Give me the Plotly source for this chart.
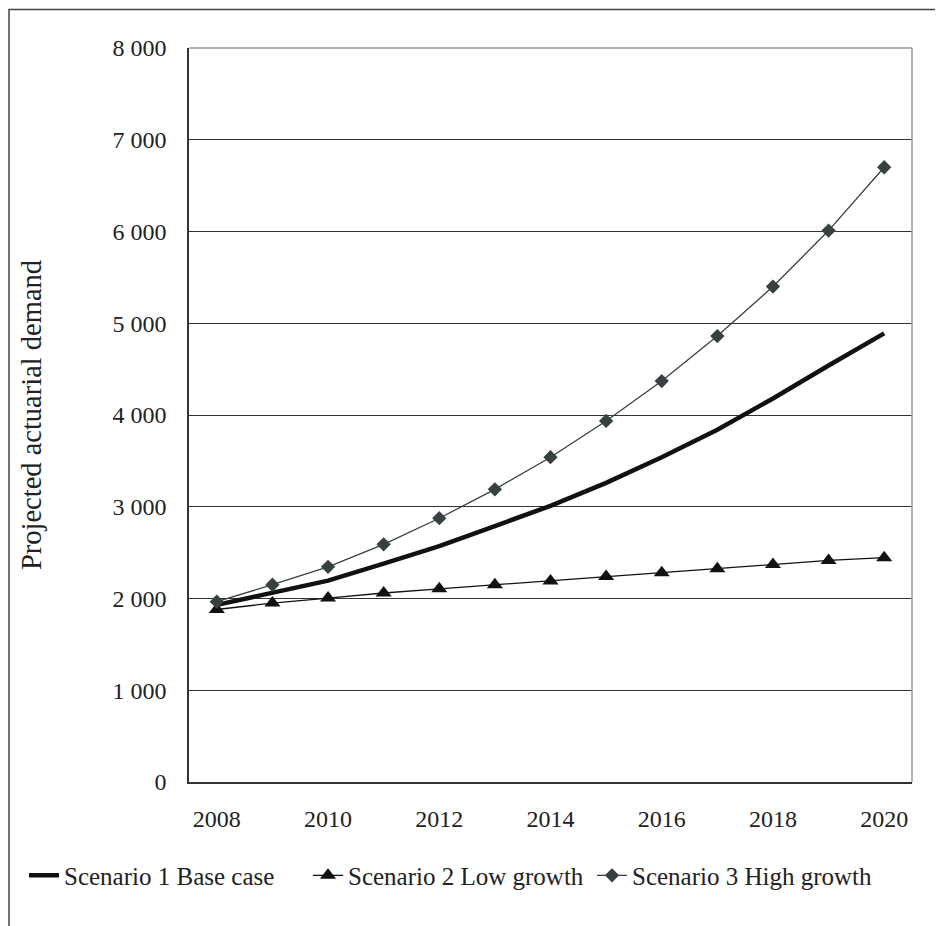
import plotly.graph_objects as go

years = [2008, 2009, 2010, 2011, 2012, 2013, 2014, 2015, 2016, 2017, 2018, 2019, 2020]
base_case = [1930, 2060, 2195, 2380, 2570, 2790, 3010, 3260, 3540, 3840, 4180, 4540, 4890]
low_growth = [1880, 1950, 2005, 2060, 2105, 2150, 2190, 2240, 2280, 2325, 2370, 2415, 2445]
high_growth = [1965, 2150, 2345, 2590, 2875, 3190, 3540, 3935, 4370, 4860, 5400, 6010, 6700]

series_names = ["Scenario 1 Base case", "Scenario 2 Low growth", "Scenario 3 High growth"]
y_tick_vals = [0, 1000, 2000, 3000, 4000, 5000, 6000, 7000, 8000]
y_tick_text = ["0", "1 000", "2 000", "3 000", "4 000", "5 000", "6 000", "7 000", "8 000"]
x_tick_vals = [2008, 2010, 2012, 2014, 2016, 2018, 2020]
y_title = "Projected actuarial demand"

FONT = "Liberation Serif, Times New Roman, serif"
HIGH_COLOR = "#374141"

# page has an 8px body margin; figure is sized/offset to compensate
W, H = 935, 918
L, T, R, B = 181, 39.5, 31, 143.7
PW = W - L - R
PH = H - T - B

def px_x(p):  # page x -> paper coord
    return (p - 8 - L) / PW

def px_y(p):  # page y -> paper coord
    return 1 - (p - 8 - T) / PH

fig = go.Figure()
fig.add_trace(go.Scatter(x=years, y=base_case, name=series_names[0], mode="lines",
                         line=dict(color="#111111", width=4.5)))
fig.add_trace(go.Scatter(x=years, y=low_growth, name=series_names[1], mode="lines+markers",
                         line=dict(color="#111111", width=1.3),
                         marker=dict(symbol="triangle-up", size=14, color="#111111")))
fig.add_trace(go.Scatter(x=years, y=high_growth, name=series_names[2], mode="lines+markers",
                         line=dict(color=HIGH_COLOR, width=1.3),
                         marker=dict(symbol="diamond", size=11, color=HIGH_COLOR)))

fig.update_layout(
    width=W, height=H,
    margin=dict(l=L, r=R, t=T, b=B),
    paper_bgcolor="white", plot_bgcolor="white",
    font=dict(family=FONT, size=24, color="#222222"),
    showlegend=True,
    legend=dict(orientation="h", x=px_x(24), xanchor="left", y=px_y(876), yanchor="middle",
                font=dict(family=FONT, size=25, color="#222222"),
                itemwidth=30, tracegroupgap=0, entrywidth=239, entrywidthmode="pixels",
                bgcolor="rgba(0,0,0,0)"),
    xaxis=dict(range=[2007.5, 2020.5], tickvals=x_tick_vals, showgrid=False,
               showline=True, linecolor="#333333", linewidth=1.5, zeroline=False,
               ticks="", ticklabelstandoff=14, fixedrange=True),
    yaxis=dict(range=[0, 8000], tickvals=y_tick_vals, ticktext=y_tick_text,
               showgrid=True, gridcolor="#333333", gridwidth=1,
               showline=True, linecolor="#333333", linewidth=1.5, zeroline=False,
               ticks="", ticklabelstandoff=16,
               title=dict(text=y_title, standoff=62,
                          font=dict(family=FONT, size=28.5, color="#222222")),
               fixedrange=True),
    shapes=[
        dict(type="line", xref="paper", yref="paper", x0=0, x1=1, y0=1, y1=1,
             line=dict(color="#9a9a9a", width=1.5)),
        dict(type="line", xref="paper", yref="paper", x0=1, x1=1, y0=0, y1=1,
             line=dict(color="#9a9a9a", width=1.5)),
        dict(type="rect", xref="paper", yref="paper", x0=px_x(9), x1=px_x(940),
             y0=px_y(940), y1=px_y(9), line=dict(color="#444444", width=1.5),
             fillcolor="rgba(0,0,0,0)", layer="below"),
    ],
)

fig.write_html("out.html")
